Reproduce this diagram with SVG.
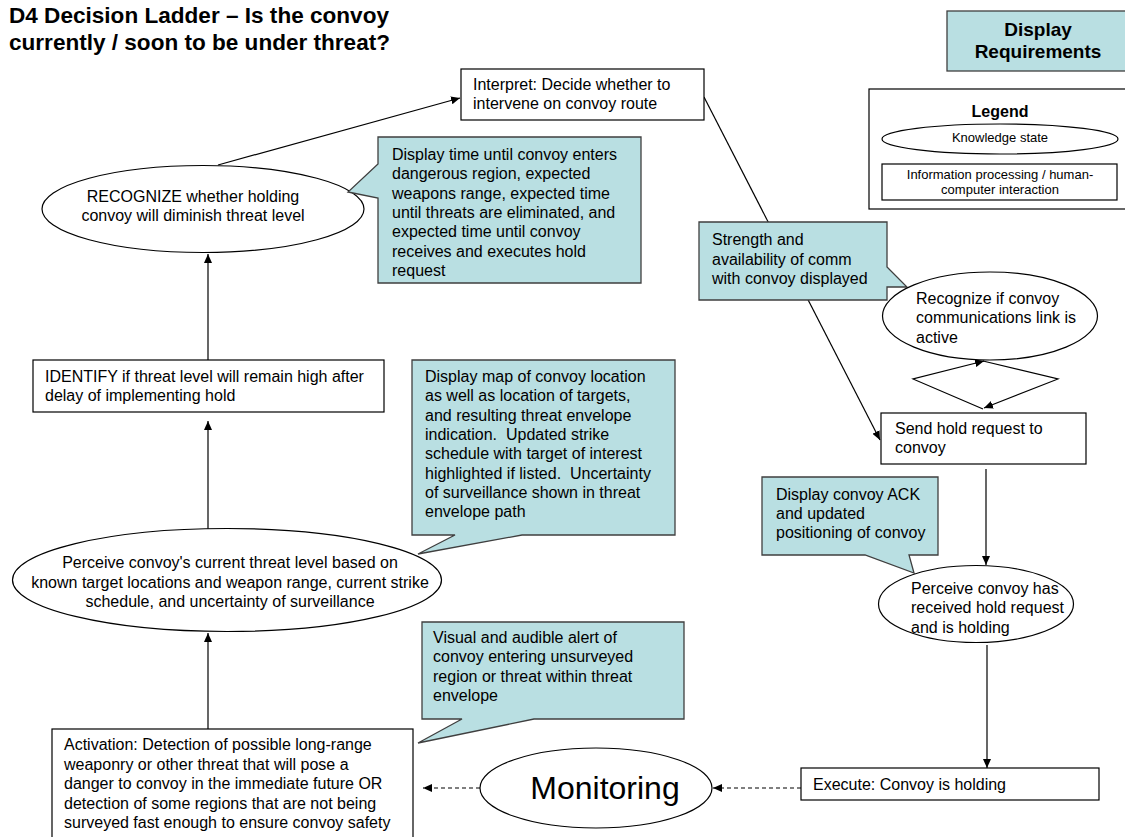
<svg xmlns="http://www.w3.org/2000/svg" width="1125" height="837" viewBox="0 0 1125 837">
<defs>
<marker id="ah" markerUnits="userSpaceOnUse" markerWidth="10" markerHeight="8" refX="9" refY="4" orient="auto">
<path d="M0,0 L9,4 L0,8 Z" fill="#000"/>
</marker>
<style>
text{font-family:"Liberation Sans",Arial,sans-serif;font-size:16px;fill:#000}
.title{font-size:22px;font-weight:bold}
.bold{font-weight:bold}
.dr{font-size:19px}
.big{font-size:32px}
.node{fill:#fff;stroke:#000;stroke-width:1.2}
.call{fill:#b9dfe2;stroke:#3f3f3f;stroke-width:1.3}
.conn{fill:none;stroke:#000;stroke-width:1.2;marker-end:url(#ah)}
.dash{stroke-dasharray:4 3}
.mid{text-anchor:middle}
.small{font-size:13px}
</style>
</defs>
<rect width="1125" height="837" fill="#fff"/>

<g id="title">
<text class="title" x="9" y="23" textLength="380" lengthAdjust="spacingAndGlyphs">D4 Decision Ladder – Is the convoy</text>
<text class="title" x="9" y="50" textLength="381" lengthAdjust="spacingAndGlyphs">currently / soon to be under threat?</text>
</g>

<g id="connectors">
<path class="conn" d="M218,165 L460,98"/>
<path class="conn" d="M208,360 L208,254"/>
<path class="conn" d="M208,529 L208,421"/>
<path class="conn" d="M208,729 L208,633"/>
<path class="conn" d="M704,97 L880,440"/>
<path class="conn" d="M983,409 L913,379 L984,361"/>
<path class="conn" d="M983,361 L1058,379 L984,408"/>
<path class="conn" d="M986,469 L986,565"/>
<path class="conn" d="M987,645 L987,768"/>
<path class="conn dash" d="M801,788 L713,788"/>
<path class="conn dash" d="M480,788 L423,788"/>
</g>

<g id="display-requirements">
<rect class="call" x="947" y="11" width="182" height="60"/>
<text class="bold mid dr" x="1038" y="36">Display</text>
<text class="bold mid dr" x="1038" y="58">Requirements</text>
</g>

<g id="legend">
<rect class="node" x="869" y="89" width="262" height="120"/>
<text class="bold mid" x="1000" y="117">Legend</text>
<ellipse class="node" cx="1000" cy="139" rx="118" ry="15"/>
<text class="mid small" x="1000" y="142">Knowledge state</text>
<rect class="node" x="882" y="164" width="235" height="36"/>
<text class="mid small" x="1000" y="179">Information processing / human-</text>
<text class="mid small" x="1000" y="194">computer interaction</text>
</g>

<g id="interpret">
<rect class="node" x="461" y="69" width="243" height="51"/>
<text x="473" y="90">Interpret: Decide whether to</text>
<text x="473" y="109">intervene on convoy route</text>
</g>

<g id="recognize">
<ellipse class="node" cx="203" cy="209" rx="161" ry="43.5"/>
<text class="mid" x="193" y="202">RECOGNIZE whether holding</text>
<text class="mid" x="193" y="221">convoy will diminish threat level</text>
</g>

<g id="callout-recognize">
<path class="call" d="M378,137 L641,137 L641,283 L378,283 L378,198 L348,192 L378,164 Z"/>
<text x="392" y="160">Display time until convoy enters</text>
<text x="392" y="179">dangerous region, expected</text>
<text x="392" y="198.5">weapons range, expected time</text>
<text x="392" y="218">until threats are eliminated, and</text>
<text x="392" y="237">expected time until convoy</text>
<text x="392" y="256.5">receives and executes hold</text>
<text x="392" y="276">request</text>
</g>

<g id="identify">
<rect class="node" x="33" y="360" width="351" height="52"/>
<text x="45" y="382">IDENTIFY if threat level will remain high after</text>
<text x="45" y="401">delay of implementing hold</text>
</g>

<g id="callout-identify">
<path class="call" d="M412,360 L675,360 L675,535 L522,535 L418,554 L455,535 L412,535 Z"/>
<text x="425" y="382">Display map of convoy location</text>
<text x="425" y="401">as well as location of targets,</text>
<text x="425" y="420.5">and resulting threat envelope</text>
<text x="425" y="440" xml:space="preserve">indication.  Updated strike</text>
<text x="425" y="459">schedule with target of interest</text>
<text x="425" y="478.5" xml:space="preserve">highlighted if listed.  Uncertainty</text>
<text x="425" y="498">of surveillance shown in threat</text>
<text x="425" y="517">envelope path</text>
</g>

<g id="perceive">
<ellipse class="node" cx="227" cy="580" rx="214.5" ry="51.5"/>
<text class="mid" x="230" y="568">Perceive convoy's current threat level based on</text>
<text class="mid" x="230" y="588">known target locations and weapon range, current strike</text>
<text class="mid" x="230" y="607">schedule, and uncertainty of surveillance</text>
</g>

<g id="callout-activation">
<path class="call" d="M422,622 L684,622 L684,719 L534,719 L418,743 L462,719 L422,719 Z"/>
<text x="433" y="643">Visual and audible alert of</text>
<text x="433" y="662">convoy entering unsurveyed</text>
<text x="433" y="681.5">region or threat within threat</text>
<text x="433" y="701">envelope</text>
</g>

<g id="activation">
<rect class="node" x="52" y="729" width="361" height="112"/>
<text x="64" y="750">Activation: Detection of possible long-range</text>
<text x="64" y="769.5">weaponry or other threat that will pose a</text>
<text x="64" y="789">danger to convoy in the immediate future OR</text>
<text x="64" y="808.5">detection of some regions that are not being</text>
<text x="64" y="828">surveyed fast enough to ensure convoy safety</text>
</g>

<g id="monitoring">
<ellipse class="node" cx="596" cy="788" rx="116" ry="40"/>
<text class="mid big" x="605" y="799">Monitoring</text>
</g>

<g id="execute">
<rect class="node" x="801" y="768" width="298" height="32"/>
<text x="813" y="789.5">Execute: Convoy is holding</text>
</g>

<g id="callout-comm">
<path class="call" d="M699,222 L887,222 L887,267 L907,287 L887,287 L887,300 L699,300 Z"/>
<text x="712" y="245">Strength and</text>
<text x="712" y="264.5">availability of comm</text>
<text x="712" y="284">with convoy displayed</text>
</g>

<g id="recognize-comm">
<ellipse class="node" cx="990" cy="316" rx="107.5" ry="44"/>
<text x="916" y="303.5">Recognize if convoy</text>
<text x="916" y="323">communications link is</text>
<text x="916" y="342.5">active</text>
</g>

<g id="send-hold">
<rect class="node" x="881" y="413" width="205" height="51"/>
<text x="895" y="433.5">Send hold request to</text>
<text x="895" y="453">convoy</text>
</g>

<g id="callout-ack">
<path class="call" d="M762,477 L938,477 L938,555 L909,555 L914,573 L865,555 L762,555 Z"/>
<text x="776" y="499.5">Display convoy ACK</text>
<text x="776" y="518.5">and updated</text>
<text x="776" y="538">positioning of convoy</text>
</g>

<g id="perceive-hold">
<ellipse class="node" cx="976" cy="604" rx="97.5" ry="38.5"/>
<text x="911" y="593.5">Perceive convoy has</text>
<text x="911" y="613">received hold request</text>
<text x="911" y="632.5">and is holding</text>
</g>
</svg>
